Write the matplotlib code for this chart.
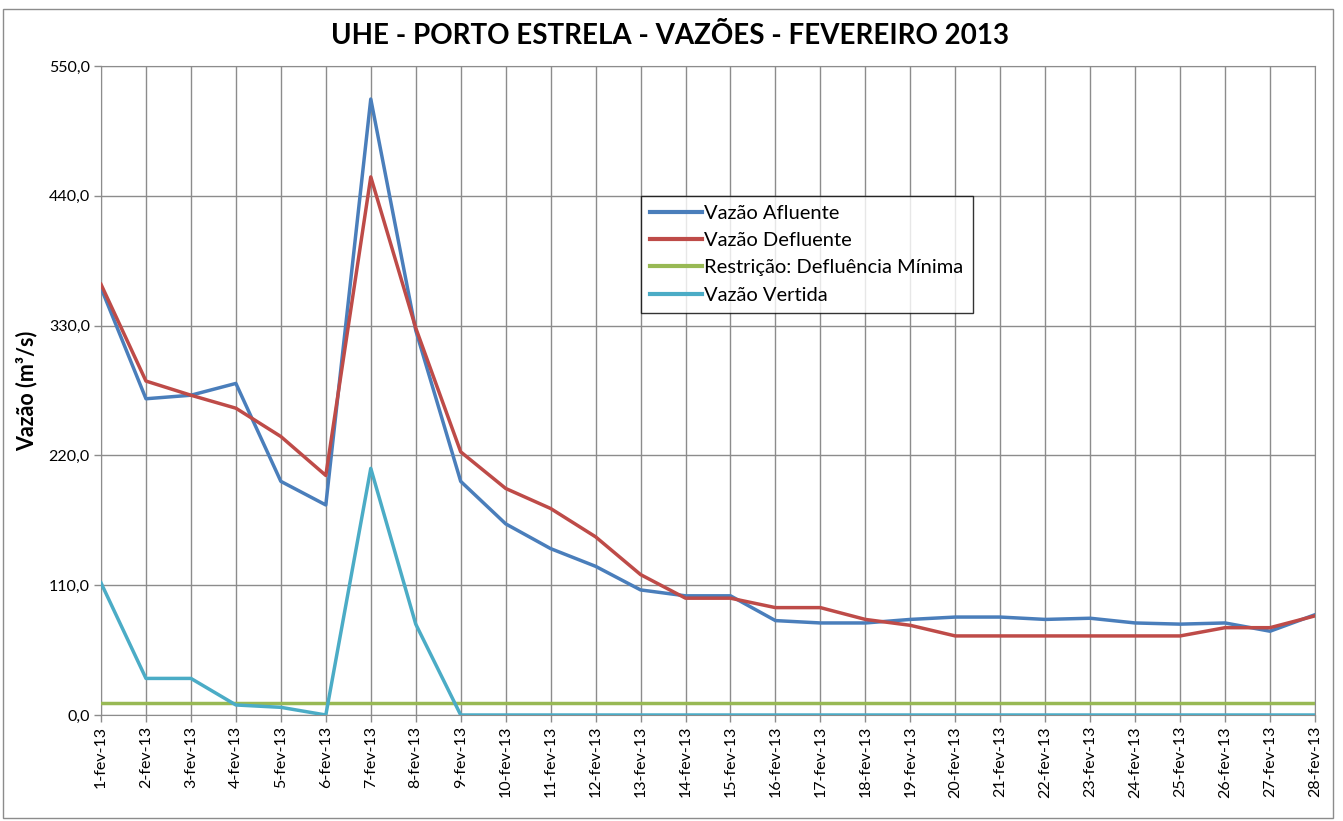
import matplotlib
matplotlib.use("Agg")
import matplotlib.pyplot as plt
from matplotlib.patches import Rectangle

days = [f"{d}-fev-13" for d in range(1, 29)]
afluente = [362, 268, 271, 281, 198, 178, 522, 326, 198, 162, 141, 126, 106, 101, 101, 80, 78, 78,
            81, 83, 83, 81, 82, 78, 77, 78, 71, 85]
defluente = [365, 283, 271, 260, 236, 203, 456, 328, 223, 192, 175, 151, 119, 99, 99, 91, 91, 81,
             76, 67, 67, 67, 67, 67, 67, 74, 74, 84]
restricao = [10] * 28
vertida = [112, 31, 31, 8.5, 6.5, 0, 209, 77, 0, 0, 0, 0, 0, 0, 0, 0, 0, 0,
           0, 0, 0, 0, 0, 0, 0, 0, 0, 0]
yticks = [0, 110, 220, 330, 440, 550]
ytick_labels = ["0,0", "110,0", "220,0", "330,0", "440,0", "550,0"]

plt.rcParams['font.family'] = ['Lato', 'DejaVu Sans']

W, H = 1343, 821
fig = plt.figure(figsize=(W / 100, H / 100), dpi=100)
ax = fig.add_axes([101 / W, 1 - 715 / H, (1315 - 101) / W, (715 - 66) / H])

x = list(range(len(days)))
lw = 2.5
ax.plot(x, afluente, color="#4A7EBB", lw=lw, label="Vazão Afluente", zorder=4)
ax.plot(x, defluente, color="#BE4B48", lw=lw, label="Vazão Defluente", zorder=5)
ax.plot(x, restricao, color="#98B954", lw=lw, label="Restrição: Defluência Mínima", zorder=3)
ax.plot(x, vertida, color="#4BACC6", lw=lw, label="Vazão Vertida", zorder=3)

ax.set_xlim(0, len(days) - 1)
ax.set_ylim(0, 550)
ax.set_yticks(yticks)
ax.set_yticklabels(ytick_labels, fontsize=11.5)
ax.set_xticks(x)
ax.set_xticklabels(days, rotation=90, fontsize=11.5)
ax.grid(True, color="#8C8C8C", lw=1)
ax.set_axisbelow(True)
for s in ax.spines.values():
    s.set_color("#8C8C8C")
ax.tick_params(axis="both", colors="#8C8C8C", labelcolor="black", length=5, width=1, pad=3)

ax.set_ylabel("Vazão (m³/s)", fontsize=15.5, fontweight="bold", labelpad=8)
fig.text(670 / W, 1 - 36 / H, "UHE - PORTO ESTRELA - VAZÕES - FEVEREIRO 2013",
         ha="center", va="center", fontsize=20, fontweight="bold")

leg = ax.legend(loc="upper left", bbox_to_anchor=((641 - 101) / (1315 - 101), (715 - 196) / (715 - 66)),
                fontsize=14.5, frameon=True, fancybox=False, handlelength=2.6, handletextpad=0.1,
                borderpad=0.45, labelspacing=0.5, borderaxespad=0)
leg.get_frame().set_edgecolor("black")
leg.get_frame().set_linewidth(1)
for line in leg.get_lines():
    line.set_linewidth(3)

fig.patches.append(Rectangle((3 / W, 1 - 818 / H), (1333 - 3) / W, (818 - 9) / H,
                             transform=fig.transFigure, fill=False, edgecolor="#8C8C8C", lw=1))

fig.savefig("out.png", dpi=100)
